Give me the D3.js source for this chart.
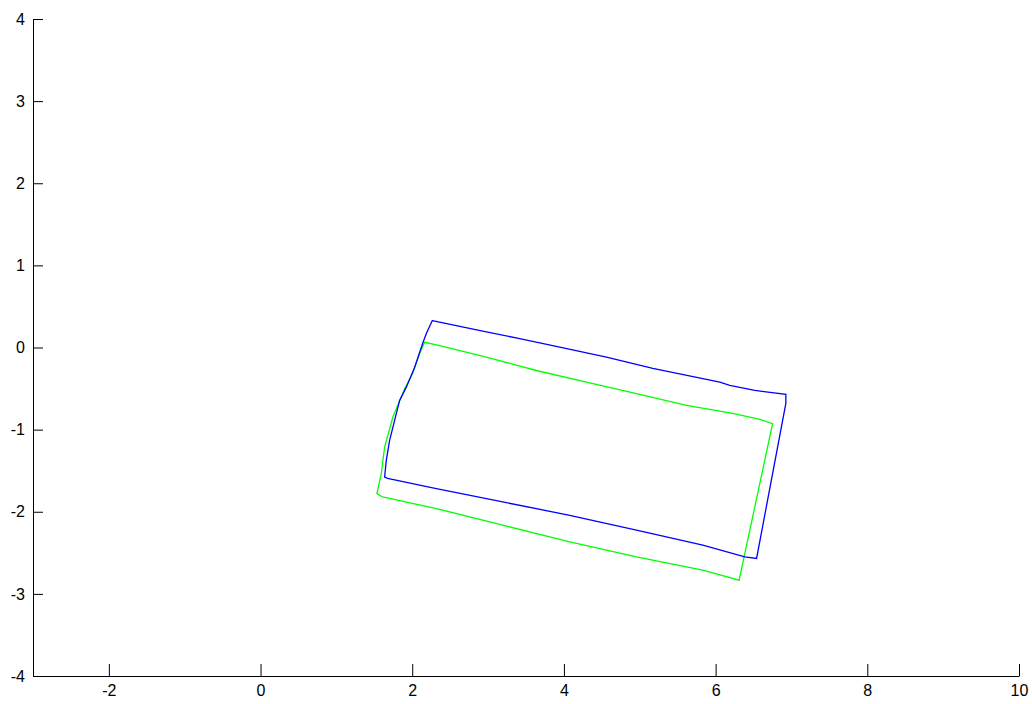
<!DOCTYPE html>
<html>
<head>
  <meta charset="utf-8">
  <script src="https://d3js.org/d3.v7.min.js"></script>
  <style>
    body { margin: 0; background: #fff; }
    svg { font-family: "Liberation Sans", Arial, sans-serif; }
    .axis text { font-size: 16px; fill: #000; }
    .axis path, .axis line { stroke: #000; }
  </style>
</head>
<body>
<svg id="chart" width="1032" height="704"></svg>
<script>
// tick values
var xTicks = [-2, 0, 2, 4, 6, 8, 10];
var yTicks = [-4, -3, -2, -1, 0, 1, 2, 3, 4];

// blue outline
var blueX = [2.265, 2.929, 3.417, 3.945, 4.561, 5.172, 6.055, 6.187, 6.517, 6.926, 6.926,
  6.540, 6.385, 5.831, 4.956, 4.077, 3.193, 2.318, 1.675, 1.636,
  1.658, 1.702, 1.768, 1.834, 1.922, 2.032, 2.137, 2.186];
var blueY = [0.328, 0.198, 0.109, 0.004, -0.118, -0.255, -0.422, -0.462, -0.523, -0.571, -0.681,
  -2.569, -2.550, -2.407, -2.225, -2.043, -1.881, -1.718, -1.593, -1.577,
  -1.374, -1.131, -0.888, -0.644, -0.483, -0.240, 0.049, 0.170];

// green outline
var greenX = [2.164, 2.361, 2.978, 3.637, 4.297, 4.957, 5.616, 6.227, 6.583, 6.751,
  6.310, 5.831, 4.956, 4.077, 3.193, 2.318, 1.609, 1.534,
  1.592, 1.636, 1.745, 1.900, 2.005, 2.098];
var greenY = [0.064, 0.024, -0.118, -0.280, -0.422, -0.563, -0.705, -0.802, -0.875, -0.928,
  -2.833, -2.711, -2.550, -2.367, -2.164, -1.961, -1.820, -1.779,
  -1.536, -1.212, -0.847, -0.502, -0.316, -0.073];

var svg = d3.select("#chart");

var x = d3.scaleLinear().domain([-3, 10]).range([33, 1019]);
var y = d3.scaleLinear().domain([-4, 4]).range([676, 19]);

// plain hyphen for negatives, like the original
var fmt = function (d) { return String(d); };

// axes, ticks pointing inward
svg.append("g")
  .attr("class", "axis")
  .attr("transform", "translate(0,676)")
  .call(d3.axisBottom(x).tickValues(xTicks).tickFormat(fmt)
    .tickSizeInner(-12).tickSizeOuter(0).tickPadding(9));

svg.append("g")
  .attr("class", "axis")
  .attr("transform", "translate(33,0)")
  .call(d3.axisLeft(y).tickValues(yTicks).tickFormat(fmt)
    .tickSizeInner(-10).tickSizeOuter(0).tickPadding(8));

svg.selectAll(".axis .domain").attr("fill", "none");

var line = d3.line()
  .x(function (d) { return x(d[0]); })
  .y(function (d) { return y(d[1]); })
  .curve(d3.curveLinearClosed);

function pts(xs, ys) {
  return xs.map(function (v, i) { return [v, ys[i]]; });
}

svg.append("path")
  .attr("d", line(pts(greenX, greenY)))
  .attr("fill", "none")
  .attr("stroke", "#00ff00")
  .attr("stroke-width", 1.3);

svg.append("path")
  .attr("d", line(pts(blueX, blueY)))
  .attr("fill", "none")
  .attr("stroke", "#0000ff")
  .attr("stroke-width", 1.3);
</script>
</body>
</html>
